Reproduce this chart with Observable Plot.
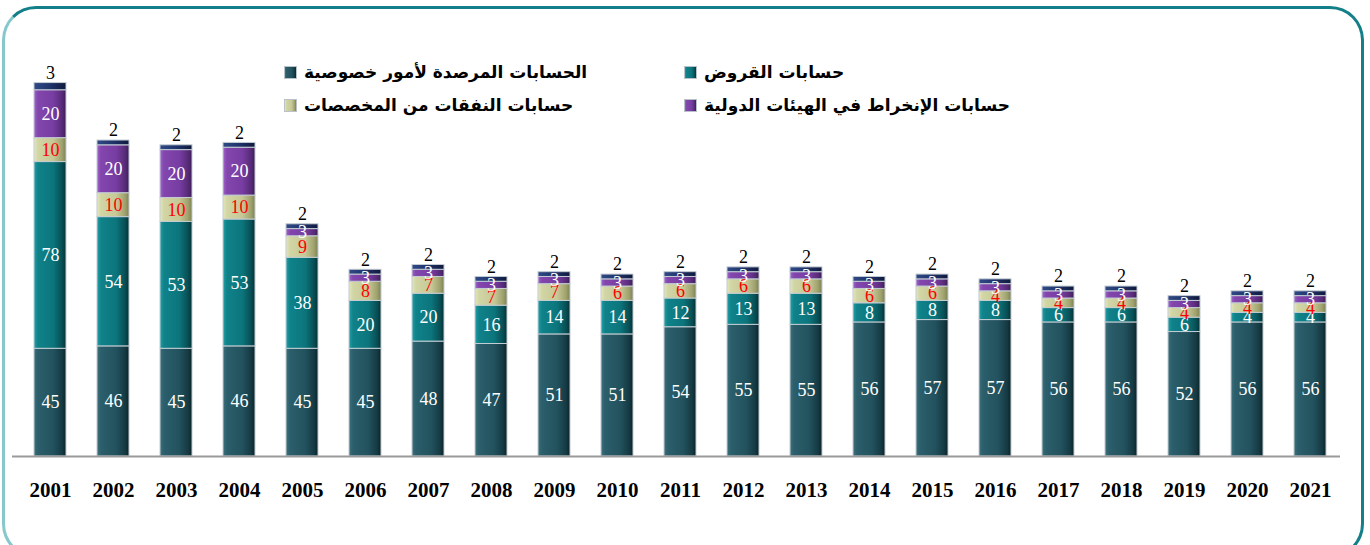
<!DOCTYPE html>
<html>
<head>
<meta charset="utf-8">
<script src="https://cdn.jsdelivr.net/npm/d3@7"></script>
<script src="https://cdn.jsdelivr.net/npm/@observablehq/plot@0.6"></script>
<style>
  html, body { margin: 0; padding: 0; background: #fff; }
  #wrap { position: relative; width: 1370px; height: 545px; overflow: hidden; background: #fff; }
  #frame { position: absolute; left: 2px; top: 6px; width: 1362px; height: 552px; box-sizing: border-box;
           border: 3px solid #137f88; border-left-color: #86c8cc; border-radius: 34px; }
  #chart { position: absolute; left: 0; top: 0; }
  .leg { position: absolute; display: flex; align-items: center; gap: 7px;
         font-family: "DejaVu Sans", sans-serif; font-weight: bold; font-size: 17px; color: #000; }
  .leg span.t { direction: rtl; unicode-bidi: embed; white-space: nowrap; }
  .sw { width: 13px; height: 13px; box-sizing: border-box; border: 1px solid #b8c2c8; }
</style>
</head>
<body>
<div id="wrap">
  <div id="frame"></div>
  <div id="chart"></div>
  <div id="legend"></div>
</div>
<script>
// ---- data ----
const years = ["2001","2002","2003","2004","2005","2006","2007","2008","2009","2010","2011",
               "2012","2013","2014","2015","2016","2017","2018","2019","2020","2021"];
const seriesNames = [
  "الحسابات المرصدة لأمور خصوصية",
  "حسابات القروض",
  "حسابات النفقات من المخصصات",
  "حسابات الإنخراط في الهيئات الدولية",
  "أخرى"
];
const privateAccounts = [45,46,45,46,45,45,48,47,51,51,54,55,55,56,57,57,56,56,52,56,56];
const loanAccounts    = [78,54,53,53,38,20,20,16,14,14,12,13,13, 8, 8, 8, 6, 6, 6, 4, 4];
const expenseAccounts = [10,10,10,10, 9, 8, 7, 7, 7, 6, 6, 6, 6, 6, 6, 4, 4, 4, 4, 4, 4];
const intlAccounts    = [20,20,20,20, 3, 3, 3, 3, 3, 3, 3, 3, 3, 3, 3, 3, 3, 3, 3, 3, 3];
const otherAccounts   = [ 3, 2, 2, 2, 2, 2, 2, 2, 2, 2, 2, 2, 2, 2, 2, 2, 2, 2, 2, 2, 2];

const seriesValues = [privateAccounts, loanAccounts, expenseAccounts, intlAccounts, otherAccounts];
const gradIds = ["g0","g1","g2","g3","g4"];
const gradStops = [
  [[0,"#3f717c"],[0.12,"#2b5f6b"],[0.6,"#22525e"],[0.88,"#153a43"],[1,"#0b2328"]],
  [[0,"#22a0a6"],[0.12,"#10828a"],[0.6,"#0c757c"],[0.88,"#084e54"],[1,"#053236"]],
  [[0,"#e4e7bd"],[0.12,"#d2d5a4"],[0.6,"#c6c996"],[0.88,"#9ea16c"],[1,"#7d8052"]],
  [[0,"#a066cc"],[0.12,"#8246ad"],[0.6,"#783da2"],[0.88,"#572b78"],[1,"#3d1d55"]],
  [[0,"#314a86"],[0.5,"#1f346b"],[1,"#10193c"]]
];

const table = [];
years.forEach((yr, i) => {
  seriesNames.forEach((s, k) => table.push({year: yr, series: s, k, value: seriesValues[k][i]}));
});
const totals = years.map((yr, i) => ({year: yr, total: d3.sum(seriesValues, v => v[i]), top: otherAccounts[i]}));

const chart = Plot.plot({
  width: 1370,
  height: 545,
  marginLeft: 0,
  marginRight: 11,
  marginTop: 73,
  marginBottom: 89,
  style: {fontFamily: "'Liberation Serif', 'Times New Roman', serif", fontSize: "21px", fontWeight: "bold", color: "#000", background: "transparent"},
  x: {domain: years, padding: 0.5, tickSize: 0, tickPadding: 26, label: null},
  y: {domain: [0, 160], axis: null},
  color: {type: "ordinal", domain: seriesNames, range: gradIds.map(id => `url(#${id})`)},
  marks: [
    Plot.barY(table, Plot.stackY({x: "year", y: "value", z: "series", fill: "series", stroke: "#c3ccd3", strokeWidth: 1})),
    Plot.ruleY([0], {stroke: "#9a9a9a", strokeWidth: 2, insetLeft: 12, insetRight: 19}),
    Plot.text(table, Plot.stackY({
      x: "year", y: "value", z: "series",
      text: d => d.k === 4 ? "" : String(d.value),
      fill: d => d.k === 2 ? "#ff0000" : "#ffffff",
      fontSize: 18, fontWeight: "normal"
    })),
    Plot.text(totals, {x: "year", y: "total", text: d => String(d.top), dy: -10, fill: "#000", fontSize: 18, fontWeight: "normal"})
  ]
});

// gradient defs for the bevelled bar look
const svg = d3.select(chart);
const defs = svg.insert("defs", ":first-child");
gradIds.forEach((id, k) => {
  const g = defs.append("linearGradient").attr("id", id).attr("x1", 0).attr("x2", 1).attr("y1", 0).attr("y2", 0);
  gradStops[k].forEach(([o, c]) => g.append("stop").attr("offset", o).attr("stop-color", c));
});
document.getElementById("chart").appendChild(chart);

// legend (two rows, two columns)
const legendPos = [
  {k: 0, left: 284, top: 62},
  {k: 1, left: 684, top: 62},
  {k: 2, left: 284, top: 95},
  {k: 3, left: 684, top: 95}
];
const legend = document.getElementById("legend");
legendPos.forEach(p => {
  const item = document.createElement("div");
  item.className = "leg";
  item.style.left = p.left + "px";
  item.style.top = p.top + "px";
  const sw = document.createElement("div");
  sw.className = "sw";
  const stops = gradStops[p.k].map(([o, c]) => `${c} ${o * 100}%`).join(",");
  sw.style.background = `linear-gradient(to right, ${stops})`;
  const t = document.createElement("span");
  t.className = "t";
  t.textContent = seriesNames[p.k];
  item.appendChild(sw);
  item.appendChild(t);
  legend.appendChild(item);
});
</script>
</body>
</html>
